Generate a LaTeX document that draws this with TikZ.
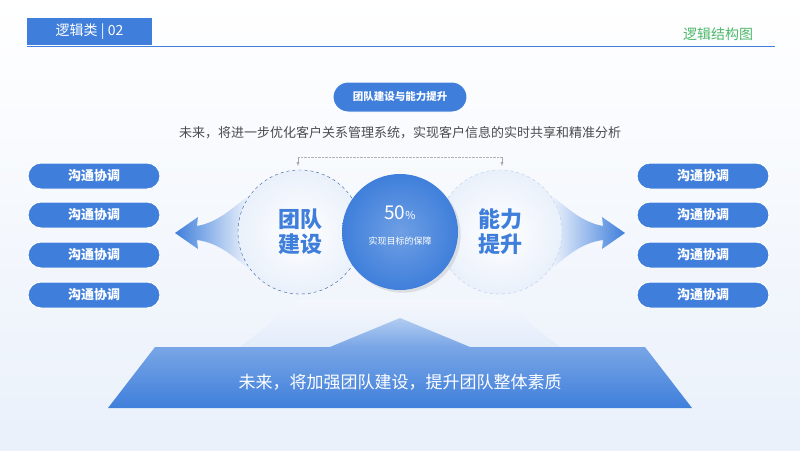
\documentclass[tikz,border=0pt]{standalone}
\usepackage{fontspec}
\setmainfont{Noto Sans CJK SC}
\usetikzlibrary{arrows.meta,shadows}
\definecolor{mainblue}{HTML}{3F7FDB}
\definecolor{lightblue}{HTML}{DCE7F8}
\definecolor{titlegreen}{HTML}{4DB86A}
\tikzset{
  pill/.style={draw=white,line width=1pt,fill=mainblue,rounded corners=13pt,minimum width=132pt,minimum height=26pt,text=white,font=\bfseries\fontsize{13}{13}\selectfont},
  ring/.style={circle,draw=mainblue!70!black,dashed,minimum size=124pt,inner color=white,outer color=lightblue!60},
}
\begin{document}
\begin{tikzpicture}[x=1pt,y=-1pt]
  \useasboundingbox (0,0) rectangle (800,450);
  \shade[top color=white,bottom color=lightblue!60] (0,0) rectangle (800,450);

  % header
  \fill[mainblue] (27,18) rectangle (152,45);
  \node[text=white,font=\fontsize{14}{14}\selectfont] (hd) at (89.5,31.5) {逻辑类 | 02};
  \draw[mainblue,line width=0.8pt] (27,46) -- (775,46);
  \node[text=titlegreen,font=\fontsize{14}{14}\selectfont] (tt) at (718,34) {逻辑结构图};

  % title and subtitle
  \node[pill,minimum width=134pt,minimum height=30pt,rounded corners=15pt,font=\bfseries\fontsize{10.5}{10.5}\selectfont] (top) at (400,97) {团队建设与能力提升};
  \node[text=black!70,font=\fontsize{13}{13}\selectfont] (sub) at (400,133) {未来，将进一步优化客户关系管理系统，实现客户信息的实时共享和精准分析};

  % arrows
  \shade[left color=mainblue,right color=lightblue!40] (175,233) -- (198,217) -- (197,226) .. controls (220,222) and (235,205) .. (250,195) -- (250,270) .. controls (235,258) and (220,243) .. (197,240) -- (198,249) -- cycle;
  \shade[right color=mainblue,left color=lightblue!40] (625,233) -- (602,217) -- (603,226) .. controls (580,222) and (565,205) .. (550,195) -- (550,270) .. controls (565,258) and (580,243) .. (603,240) -- (602,249) -- cycle;

  % circles
  \node[ring] (lc) at (300,232) {};
  \node[ring,draw=mainblue!40] (rc) at (500,232) {};
  \node[text=mainblue,font=\bfseries\fontsize{22}{25}\selectfont,align=center] (lt) at (lc) {团队\\建设};
  \node[text=mainblue,font=\bfseries\fontsize{22}{25}\selectfont,align=center] (rt) at (rc) {能力\\提升};
  \node[circle,minimum size=116pt,inner color=mainblue!75,outer color=mainblue,drop shadow={opacity=0.2}] (cc) at (400,232) {};
  \node[text=white,font=\fontsize{19}{19}\selectfont] (pc) at (400,213) {50\fontsize{11}{11}\selectfont\%};
  \node[text=white,font=\fontsize{9}{9}\selectfont] (pt) at (400,241) {实现目标的保障};

  \coordinate (dl) at (298,157);
  \coordinate (dr) at (502,157);
  \draw[gray!60,densely dotted] (dl) -- (dr);
  \draw[gray!70,-{Latex[length=4pt]}] (dl) -- (298,166);
  \draw[gray!70,-{Latex[length=4pt]}] (dr) -- (502,166);

  % side pills
  \foreach \y [count=\i] in {176,215,255,295} {
    \node[pill] (l\i) at (94,\y) {沟通协调};
    \node[pill] (r\i) at (703,\y) {沟通协调};
  }

  % base
  \shade[top color=lightblue!30,bottom color=lightblue!80] (300,300) -- (500,300) -- (560,347) -- (240,347) -- cycle;
  \shade[top color=mainblue!40,bottom color=mainblue!70] (400,318) -- (470,347) -- (330,347) -- cycle;
  \shade[top color=mainblue!70,bottom color=mainblue] (155,347) -- (645,347) -- (692,408) -- (108,408) -- cycle;
  \node[text=white,font=\fontsize{17}{17}\selectfont] (bt) at (400,382) {未来，将加强团队建设，提升团队整体素质};
\end{tikzpicture}
\end{document}
